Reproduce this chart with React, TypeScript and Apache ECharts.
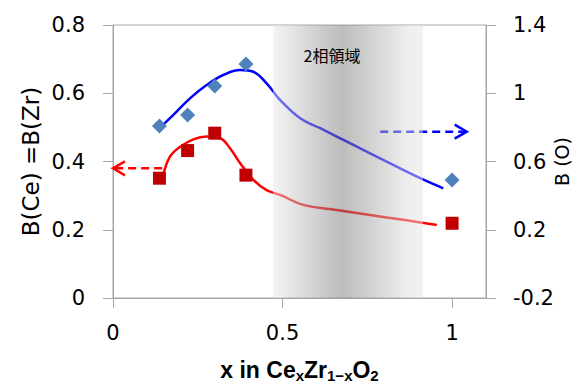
import React, { useEffect, useRef } from 'react';
import * as echarts from 'echarts';

// ---- data ----
const xTicks = [0, 0.5, 1];
const xRange = [0, 1.1];
const leftRange = [0, 0.8];
const rightRange = [-0.2, 1.4];

const sampleX = [0.137, 0.22, 0.3, 0.392, 1.0];
const bCeZr = [0.351, 0.432, 0.483, 0.36, 0.219];
const bO = [0.808, 0.873, 1.043, 1.171, 0.492];

const redFitX = [0.148, 0.168, 0.198, 0.237, 0.276, 0.316, 0.345, 0.375, 0.414, 0.453, 0.493, 0.561, 0.66, 0.758, 0.856, 0.955];
const redFitY = [0.36, 0.414, 0.443, 0.465, 0.473, 0.468, 0.439, 0.395, 0.346, 0.316, 0.302, 0.273, 0.258, 0.243, 0.229, 0.214];

const blueFitX = [0.134, 0.178, 0.227, 0.276, 0.325, 0.375, 0.414, 0.453, 0.493, 0.552, 0.611, 0.709, 0.807, 0.906, 0.974];
const blueFitY = [0.789, 0.873, 0.97, 1.048, 1.107, 1.136, 1.126, 1.058, 0.96, 0.853, 0.795, 0.697, 0.599, 0.502, 0.443];

// two-phase region (x from, x to)
const twoPhase = [0.472, 0.914];
const twoPhaseLabel = '2相領域';

// arrows: [xStart, y, xTip]
const redArrow = [0.145, 0.38, 0.0];
const blueArrow = [0.788, 0.775, 1.043];

const leftName = 'B(Ce) =B(Zr)';
const rightName = 'B (O)';

const FONT = '"DejaVu Sans", "Noto Sans", sans-serif';
const CJK = '"Noto Sans CJK JP", "Noto Sans", sans-serif';
const NARROW = '"Liberation Sans Narrow", "Liberation Sans", sans-serif';

const zip = (a: number[], b: number[]) => a.map((v, i) => [v, b[i]]);

const arrowRender = (color: string) => (params: any, api: any) => {
  const y = api.value(1);
  const p1 = api.coord([api.value(0), y]);
  const p2 = api.coord([api.value(2), y]);
  const dir = Math.sign(p2[0] - p1[0]);
  const L = 12;
  const W = 7;
  return {
    type: 'group',
    children: [
      {
        type: 'line',
        shape: { x1: p1[0], y1: p1[1], x2: p2[0] - dir * 2, y2: p2[1] },
        style: { stroke: color, lineWidth: 2.5, lineDash: [8, 5] },
      },
      {
        type: 'polyline',
        shape: { points: [[p2[0] - dir * L, p2[1] - W], [p2[0], p2[1]], [p2[0] - dir * L, p2[1] + W]] },
        style: { stroke: color, lineWidth: 2.5, fill: 'none' },
      },
    ],
  };
};

const bandRender = (params: any, api: any) => {
  const tl = api.coord([api.value(0), api.value(3)]);
  const br = api.coord([api.value(1), api.value(2)]);
  return {
    type: 'group',
    children: [
      {
        type: 'rect',
        shape: { x: tl[0], y: tl[1], width: br[0] - tl[0], height: br[1] - tl[1] },
        style: {
          fill: new echarts.graphic.LinearGradient(0, 0, 1, 0, [
            { offset: 0, color: 'rgba(233,233,233,0.5)' },
            { offset: 0.46, color: 'rgba(121,121,121,0.5)' },
            { offset: 0.9, color: 'rgba(221,221,221,0.5)' },
            { offset: 1, color: 'rgba(227,227,227,0.5)' },
          ]),
        },
      },
      {
        type: 'text',
        x: (tl[0] + br[0]) / 2 - 16,
        y: tl[1] + 30,
        style: {
          text: twoPhaseLabel,
          align: 'center',
          verticalAlign: 'middle',
          fontSize: 16,
          fill: '#000',
          fontFamily: CJK,
        },
      },
    ],
  };
};

const axisLineStyle = { color: '#a6a6a6', width: 1 };

const option: any = {
  animation: false,
  backgroundColor: '#fff',
  grid: {
    left: 113,
    right: 99,
    top: 25,
    bottom: 93,
    containLabel: false,
    outerBoundsMode: 'none',
    show: true,
    borderColor: '#a6a6a6',
    borderWidth: 1,
  },
  xAxis: {
    type: 'value',
    min: xRange[0],
    max: xRange[1],
    interval: 0.5,
    splitLine: { show: false },
    axisLine: { show: true, lineStyle: axisLineStyle },
    axisTick: { show: true, length: 10, customValues: xTicks, lineStyle: axisLineStyle },
    axisLabel: { customValues: xTicks, margin: 24, fontSize: 21, color: '#000', fontFamily: FONT },
    name: '{a|x in Ce}{s|x}{a|Zr}{s|1−x}{a|O}{s|2}',
    nameLocation: 'middle',
    nameGap: 59,
    nameMoveOverlap: false,
    nameTextStyle: {
      rich: {
        a: { fontSize: 23, fontWeight: 'bold', fontFamily: NARROW, color: '#000', lineHeight: 26 },
        s: { fontSize: 15, fontWeight: 'bold', fontFamily: NARROW, color: '#000', lineHeight: 13, verticalAlign: 'bottom' },
      },
    },
  },
  yAxis: [
    {
      type: 'value',
      min: leftRange[0],
      max: leftRange[1],
      interval: 0.2,
      splitLine: { show: false },
      axisLine: { show: true, lineStyle: axisLineStyle },
      axisTick: { show: true, length: 10, lineStyle: axisLineStyle },
      axisLabel: { margin: 28, fontSize: 21, color: '#000', fontFamily: FONT },
      name: leftName,
      nameLocation: 'middle',
      nameGap: 71,
      nameMoveOverlap: false,
      nameTextStyle: { fontSize: 23, color: '#000', fontFamily: FONT },
    },
    {
      type: 'value',
      position: 'right',
      min: rightRange[0],
      max: rightRange[1],
      interval: 0.4,
      splitLine: { show: false },
      axisLine: { show: true, lineStyle: axisLineStyle },
      axisTick: { show: true, length: 10, lineStyle: axisLineStyle },
      axisLabel: { margin: 27, fontSize: 21, color: '#000', fontFamily: FONT },
      name: rightName,
      nameLocation: 'middle',
      nameGap: 66,
      nameMoveOverlap: false,
      nameTextStyle: { fontSize: 19, color: '#000', fontFamily: FONT },
    },
  ],
  series: [
    {
      type: 'line',
      name: 'fitCeZr',
      yAxisIndex: 0,
      data: zip(redFitX, redFitY),
      smooth: 0.4,
      showSymbol: false,
      lineStyle: { color: '#ff0000', width: 2.5 },
      z: 2,
    },
    {
      type: 'line',
      name: 'fitO',
      yAxisIndex: 1,
      data: zip(blueFitX, blueFitY),
      smooth: 0.4,
      showSymbol: false,
      lineStyle: { color: '#0000ff', width: 2.5 },
      z: 2,
    },
    {
      type: 'custom',
      name: 'arrowLeft',
      yAxisIndex: 0,
      data: [redArrow],
      encode: { x: [0, 2], y: 1 },
      renderItem: arrowRender('#ff0000'),
      z: 2,
    },
    {
      type: 'custom',
      name: 'arrowRight',
      yAxisIndex: 1,
      data: [blueArrow],
      encode: { x: [0, 2], y: 1 },
      renderItem: arrowRender('#0000ff'),
      z: 2,
    },
    {
      type: 'custom',
      name: 'band',
      yAxisIndex: 0,
      data: [[twoPhase[0], twoPhase[1], leftRange[0], leftRange[1]]],
      encode: { x: [0, 1], y: [2, 3] },
      renderItem: bandRender,
      z: 3,
    },
    {
      type: 'scatter',
      name: 'B(O)',
      yAxisIndex: 1,
      data: zip(sampleX, bO),
      symbol: 'diamond',
      symbolSize: 15,
      itemStyle: { color: '#4f81bd', opacity: 1 },
      z: 4,
    },
    {
      type: 'scatter',
      name: 'B(Ce)=B(Zr)',
      yAxisIndex: 0,
      data: zip(sampleX, bCeZr),
      symbol: 'rect',
      symbolSize: 13,
      itemStyle: { color: '#c00000', opacity: 1 },
      z: 4,
    },
  ],
};

export default function App() {
  const ref = useRef<HTMLDivElement>(null);
  useEffect(() => {
    document.body.style.margin = '0';
    const chart = echarts.init(ref.current!, null, { renderer: 'svg' });
    chart.setOption(option);
    return () => chart.dispose();
  }, []);
  return <div ref={ref} style={{ width: 585, height: 391 }} />;
}
